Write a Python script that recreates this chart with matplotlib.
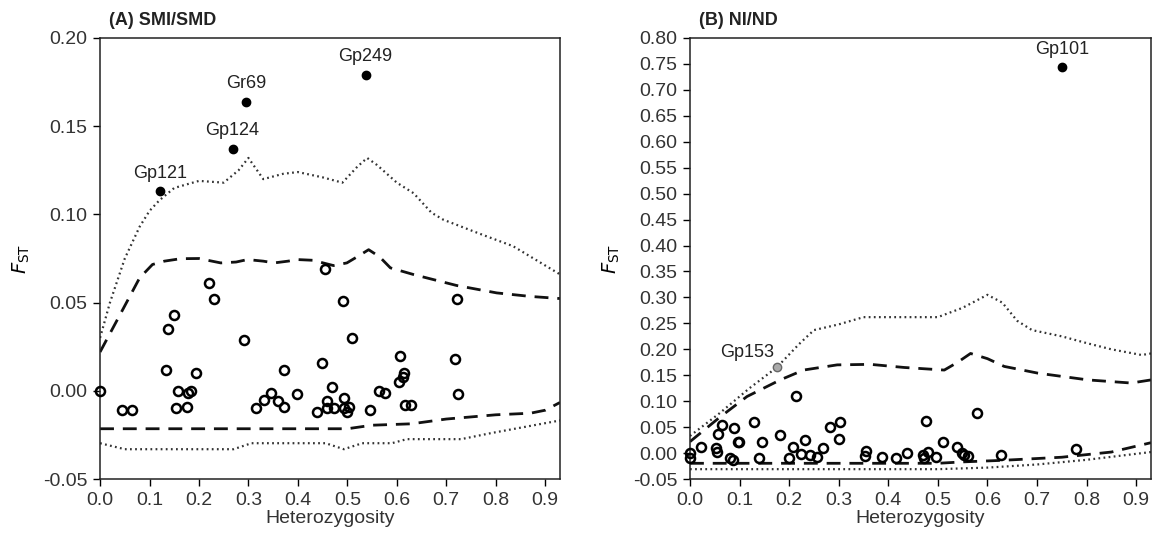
import matplotlib
matplotlib.use("Agg")
import matplotlib.pyplot as plt

plt.rcParams['font.family'] = ['Liberation Sans', 'DejaVu Sans']

# ---------------- Panel A: SMI/SMD ----------------
a_het = [0.0, 0.044, 0.065, 0.133, 0.138, 0.149, 0.153, 0.158, 0.175, 0.178, 0.184, 0.194,
         0.221, 0.230, 0.292, 0.316, 0.331, 0.346, 0.359, 0.371, 0.371, 0.399, 0.438, 0.449,
         0.454, 0.458, 0.459, 0.469, 0.474, 0.491, 0.494, 0.493, 0.499, 0.504, 0.509, 0.546,
         0.564, 0.577, 0.605, 0.607, 0.614, 0.613, 0.617, 0.629, 0.717, 0.722, 0.724]
a_fst = [0.000, -0.011, -0.011, 0.012, 0.035, 0.043, -0.010, 0.000, -0.009, -0.001, 0.000, 0.010,
         0.061, 0.052, 0.029, -0.010, -0.005, -0.001, -0.006, 0.012, -0.009, -0.002, -0.012, 0.016,
         0.069, -0.006, -0.010, 0.002, -0.010, 0.051, -0.004, -0.010, -0.012, -0.009, 0.030, -0.011,
         0.000, -0.001, 0.005, 0.020, 0.010, 0.008, -0.008, -0.008, 0.018, 0.052, -0.002]

a_out_names = ['Gp121', 'Gp124', 'Gr69', 'Gp249']
a_out_het = [0.121, 0.268, 0.296, 0.537]
a_out_fst = [0.113, 0.137, 0.164, 0.179]

a_up99_x = [0, 0.02, 0.05, 0.08, 0.10, 0.12, 0.15, 0.20, 0.25, 0.28, 0.30, 0.33, 0.37, 0.40, 0.45,
            0.49, 0.52, 0.54, 0.56, 0.60, 0.634, 0.67, 0.694, 0.768, 0.835, 0.93]
a_up99_y = [0.030, 0.050, 0.075, 0.093, 0.102, 0.108, 0.115, 0.119, 0.118, 0.125, 0.132, 0.120,
            0.123, 0.124, 0.121, 0.118, 0.127, 0.132, 0.128, 0.118, 0.112, 0.101, 0.097, 0.089,
            0.082, 0.066]
a_up95_x = [0, 0.042, 0.08, 0.106, 0.13, 0.163, 0.20, 0.244, 0.275, 0.298, 0.33, 0.352, 0.38,
            0.399, 0.43, 0.472, 0.499, 0.52, 0.543, 0.565, 0.587, 0.634, 0.721, 0.802, 0.87, 0.93]
a_up95_y = [0.022, 0.044, 0.064, 0.0716, 0.0735, 0.0749, 0.075, 0.0725, 0.073, 0.0744, 0.0735,
            0.0725, 0.0735, 0.0744, 0.074, 0.071, 0.0725, 0.076, 0.080, 0.076, 0.0697, 0.0659,
            0.0597, 0.0555, 0.0535, 0.0523]
a_lo95_x = [0, 0.5, 0.55, 0.63, 0.70, 0.80, 0.87, 0.90, 0.93]
a_lo95_y = [-0.0215, -0.0215, -0.0195, -0.0187, -0.016, -0.0136, -0.0127, -0.011, -0.0066]
a_lo99_x = [0, 0.05, 0.27, 0.306, 0.456, 0.493, 0.53, 0.59, 0.62, 0.73, 0.79, 0.93]
a_lo99_y = [-0.0297, -0.0331, -0.0331, -0.0297, -0.0297, -0.0331, -0.0297, -0.0297, -0.0274,
            -0.0274, -0.024, -0.0168]

# ---------------- Panel B: NI/ND ----------------
b_het = [0.0, 0.0, 0.022, 0.053, 0.054, 0.057, 0.064, 0.081, 0.086, 0.088, 0.097, 0.098, 0.130,
         0.140, 0.145, 0.182, 0.199, 0.208, 0.213, 0.223, 0.233, 0.243, 0.256, 0.269, 0.283,
         0.300, 0.302, 0.356, 0.354, 0.388, 0.415, 0.437, 0.470, 0.472, 0.476, 0.480, 0.496,
         0.511, 0.538, 0.549, 0.552, 0.561, 0.580, 0.628, 0.779]
b_fst = [0.000, -0.010, 0.011, 0.009, 0.002, 0.037, 0.055, -0.010, -0.013, 0.049, 0.021, 0.021,
         0.059, -0.010, 0.021, 0.035, -0.010, 0.011, 0.110, -0.002, 0.026, -0.004, -0.008, 0.009,
         0.051, 0.028, 0.059, 0.004, -0.005, -0.008, -0.010, 0.000, -0.003, -0.010, 0.061, 0.002,
         -0.008, 0.021, 0.011, 0.001, -0.004, -0.005, 0.078, -0.003, 0.008]

b_out_names = ['Gp153', 'Gp101']
b_out_het = [0.175, 0.750]
b_out_fst = [0.165, 0.745]

b_up99_x = [0, 0.06, 0.12, 0.175, 0.22, 0.25, 0.30, 0.35, 0.40, 0.50, 0.55, 0.60, 0.63, 0.66,
            0.69, 0.75, 0.80, 0.85, 0.911, 0.93]
b_up99_y = [0.033, 0.077, 0.125, 0.165, 0.210, 0.237, 0.248, 0.262, 0.262, 0.262, 0.280, 0.305,
            0.290, 0.255, 0.237, 0.225, 0.212, 0.200, 0.189, 0.192]
b_up95_x = [0, 0.06, 0.115, 0.182, 0.229, 0.297, 0.364, 0.432, 0.513, 0.54, 0.566, 0.60, 0.634,
            0.702, 0.803, 0.89, 0.93]
b_up95_y = [0.022, 0.069, 0.109, 0.141, 0.160, 0.170, 0.171, 0.165, 0.160, 0.175, 0.192, 0.182,
            0.167, 0.154, 0.141, 0.135, 0.141]
b_lo95_x = [0, 0.5, 0.55, 0.63, 0.75, 0.85, 0.93]
b_lo95_y = [-0.0197, -0.0197, -0.017, -0.014, -0.008, 0.002, 0.020]
b_lo99_x = [0, 0.5, 0.6, 0.7, 0.8, 0.93]
b_lo99_y = [-0.031, -0.031, -0.028, -0.022, -0.013, 0.002]

fig = plt.figure(figsize=(11.54, 5.42), dpi=100)
axA = fig.add_axes([0.0867, 0.1162, 0.3986, 0.8137])
axB = fig.add_axes([0.5979, 0.1162, 0.3995, 0.8137])

TICK_FS = 14


def style(ax, ylim, yticks, ylabels):
    ax.set_xlim(0, 0.93)
    ax.set_ylim(*ylim)
    ax.set_xticks([i / 10 for i in range(10)])
    ax.set_xticklabels([f"{i/10:.1f}" for i in range(10)], fontsize=TICK_FS, color='#333333')
    ax.set_yticks(yticks)
    ax.set_yticklabels(ylabels, fontsize=TICK_FS, color='#333333')
    ax.tick_params(direction='out', length=5, width=1, top=False, right=False, pad=4)
    for s in ax.spines.values():
        s.set_linewidth(1.1)
        s.set_color('#222222')
    ax.set_xlabel('Heterozygosity', fontsize=14, color='#333333', labelpad=1)
    ax.set_ylabel(r'$F_{\mathrm{ST}}$', fontsize=14, labelpad=8)


def lines(ax, up99, up95, lo95, lo99):
    ax.plot(*up99, linestyle=(0, (0.8, 1.5)), color='#333333', lw=1.6)
    ax.plot(*lo99, linestyle=(0, (0.8, 1.5)), color='#333333', lw=1.6)
    ax.plot(*up95, linestyle=(0, (5, 3.2)), color='#111111', lw=2.0)
    ax.plot(*lo95, linestyle=(0, (5, 3.2)), color='#111111', lw=2.0)


# Panel A
lines(axA, (a_up99_x, a_up99_y), (a_up95_x, a_up95_y), (a_lo95_x, a_lo95_y), (a_lo99_x, a_lo99_y))
axA.plot(a_het, a_fst, 'o', mfc='none', mec='black', mew=1.8, ms=6.5, clip_on=False, zorder=5)
axA.plot(a_out_het, a_out_fst, 'o', color='black', ms=6, zorder=5)
for n, xh, yf in zip(a_out_names, a_out_het, a_out_fst):
    axA.annotate(n, (xh, yf), xytext=(0, 7), textcoords='offset points', ha='center',
                 va='bottom', fontsize=13, color='#222222')
style(axA, (-0.05, 0.20), [-0.05, 0.0, 0.05, 0.10, 0.15, 0.20],
      ['-0.05', '0.00', '0.05', '0.10', '0.15', '0.20'])
axA.text(0.02, 1.02, '(A) SMI/SMD', transform=axA.transAxes, fontsize=13, fontweight='bold',
         ha='left', va='bottom', color='#222222')

# Panel B
lines(axB, (b_up99_x, b_up99_y), (b_up95_x, b_up95_y), (b_lo95_x, b_lo95_y), (b_lo99_x, b_lo99_y))
axB.plot(b_het, b_fst, 'o', mfc='none', mec='black', mew=1.8, ms=6.5, clip_on=False, zorder=5)
axB.plot([b_out_het[0]], [b_out_fst[0]], 'o', mfc='#aaaaaa', mec='#666666', ms=6, zorder=5)
axB.plot([b_out_het[1]], [b_out_fst[1]], 'o', color='black', ms=6, zorder=5)
axB.annotate(b_out_names[0], (b_out_het[0], b_out_fst[0]), xytext=(-2, 5), textcoords='offset points',
             ha='right', va='bottom', fontsize=13, color='#222222')
axB.annotate(b_out_names[1], (b_out_het[1], b_out_fst[1]), xytext=(0, 6), textcoords='offset points',
             ha='center', va='bottom', fontsize=13, color='#222222')
yt = [round(-0.05 + 0.05 * i, 2) for i in range(18)]
style(axB, (-0.05, 0.80), yt, [f"{v:.2f}" for v in yt])
axB.text(0.02, 1.02, '(B) NI/ND', transform=axB.transAxes, fontsize=13, fontweight='bold',
         ha='left', va='bottom', color='#222222')

fig.savefig('out.png', dpi=100)
